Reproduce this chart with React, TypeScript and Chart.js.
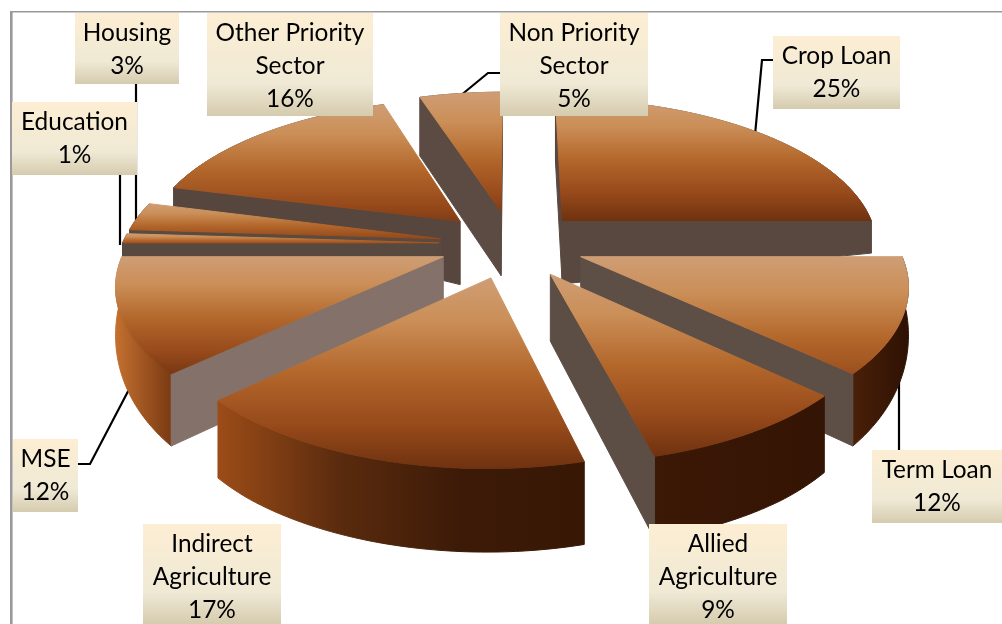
import React, { useEffect, useRef } from "react";
import { Chart, registerables } from "chart.js";

Chart.register(...registerables);

// Loan portfolio shares, clockwise from twelve o'clock.
const categories = [
  "Crop Loan",
  "Term Loan",
  "Allied Agriculture",
  "Indirect Agriculture",
  "MSE",
  "Education",
  "Housing",
  "Other Priority Sector",
  "Non Priority Sector",
];
const shares = [25, 12, 9, 17, 12, 1, 3, 16, 5];

// Text rows of each callout, category order.
const labelRows = [
  ["Crop Loan"],
  ["Term Loan"],
  ["Allied", "Agriculture"],
  ["Indirect", "Agriculture"],
  ["MSE"],
  ["Education"],
  ["Housing"],
  ["Other Priority", "Sector"],
  ["Non Priority", "Sector"],
];

// Callout rectangles [left, top, right, bottom].
const labelBoxes = [
  [773, 36, 900, 109],
  [872, 450, 1002, 523],
  [649, 524, 787, 624],
  [143, 524, 281, 624],
  [13, 439, 78, 512],
  [12, 102, 137, 175],
  [75, 13, 179, 84],
  [207, 13, 373, 116],
  [500, 13, 648, 116],
];

// Leader polylines, category order; the allied and indirect callouts have none.
const leaders = [
  [[755, 135], [762, 60], [773, 60]],
  [[899, 370], [899, 450]],
  [],
  [],
  [[135, 378], [90, 464], [78, 464]],
  [[120, 175], [120, 245]],
  [[136, 84], [136, 220]],
  [],
  [[460, 96], [488, 73], [500, 73]],
];

// Paint order of the wedges, far ones first.
const paintOrder = [8, 7, 0, 6, 5, 4, 1, 3, 2];

// Flat side colours and the left-to-right colours of each outer rim.
const wallColors = ["#58483f", "#5d4e46", "#5c4d45", "#5a4a41", "#84726a", "#574840", "#5a4a40", "#56463d", "#5b4b42"];
const rimColors = [
  ["#5a4a40", "#5a4a40"],
  ["#4a2008", "#2e1104"],
  ["#3c1806", "#341404"],
  ["#9c4c17", "#5a2b0e", "#3c1a07", "#381705"],
  ["#c47030", "#7a3a12"],
  ["#5a4236", "#54443a"],
  ["#6b3d22", "#55402f"],
  ["#56463d", "#56463d"],
  ["#5b4b42", "#5b4b42"],
];
// Fraction of the top-face colour ramp used by each wedge.
const rampReach = [1, 0.72, 1, 1, 0.95, 0.7, 0.8, 0.9, 0.9];

// Look of the tilted pie.
const tilt = { stretchX: 1.585, stretchY: 0.74, perspective: 0.16 };

type Pt = { x: number; y: number };

const piePlugin = {
  id: "tiltedPie",
  beforeDatasetsDraw(chart: any) {
    const ctx: CanvasRenderingContext2D = chart.ctx;
    const arcs = chart.getDatasetMeta(0).data;

    // Leaders run behind the wedges, so they stop at each wedge's edge.
    ctx.strokeStyle = "#000000";
    ctx.lineWidth = 2.2;
    leaders.forEach((line) => {
      if (!line.length) return;
      ctx.beginPath();
      line.forEach(([x, y], n) => (n ? ctx.lineTo(x, y) : ctx.moveTo(x, y)));
      ctx.stroke();
    });

    paintOrder.forEach((i) => {
      const arc = arcs[i];
      const R = arc.outerRadius;
      const explode = (arc.options.offset || 0) / 4 / R;
      const mid = (arc.startAngle + arc.endAngle) / 2;

      // Unit disc coordinates: a is along the screen's x, b towards the viewer.
      const ox = Math.cos(mid) * explode;
      const oy = Math.sin(mid) * explode;
      const project = (a: number, b: number): Pt => {
        const s = 1 / (1 - tilt.perspective * b);
        return { x: arc.x + R * tilt.stretchX * a * s, y: arc.y + R * tilt.stretchY * b * s };
      };
      const depth = (a: number, b: number) =>
        64 + 16 * Math.max(b, 0) - 20 * a * a * Math.max(1 - b, 0);
      const low = (a: number, b: number) => {
        const p = project(a, b);
        return { x: p.x, y: p.y + depth(a, b) };
      };

      const steps = 48;
      const unit: [number, number][] = [];
      for (let k = 0; k <= steps; k++) {
        const t = arc.startAngle + ((arc.endAngle - arc.startAngle) * k) / steps;
        unit.push([ox + Math.cos(t), oy + Math.sin(t)]);
      }
      const rimTop = unit.map(([a, b]) => project(a, b));
      const rimLow = unit.map(([a, b]) => low(a, b));
      const apex = project(ox, oy);
      const apexLow = low(ox, oy);
      const midPt = project(ox + Math.cos(mid), oy + Math.sin(mid));

      const fillPoly = (pts: Pt[], fill: string | CanvasGradient) => {
        ctx.beginPath();
        pts.forEach((p, n) => (n ? ctx.lineTo(p.x, p.y) : ctx.moveTo(p.x, p.y)));
        ctx.closePath();
        ctx.fillStyle = fill;
        ctx.fill();
        // Closes the hairline left between neighbouring faces.
        ctx.strokeStyle = fill;
        ctx.lineWidth = 1;
        ctx.lineJoin = "round";
        ctx.stroke();
      };

      // Outer rim.
      const xs = rimTop.map((p) => p.x);
      const rimGrad = ctx.createLinearGradient(Math.min(...xs), 0, Math.max(...xs) + 0.01, 0);
      rimColors[i].forEach((c, n, all) => rimGrad.addColorStop(n / (all.length - 1), c));
      fillPoly([...rimTop, ...rimLow.slice().reverse()], rimGrad);

      // Cut faces that turn towards the viewer.
      [
        [rimTop[0], rimLow[0]],
        [rimTop[steps], rimLow[steps]],
      ].forEach(([pTop, pLow]) => {
        const ex = pTop.x - apex.x;
        const ey = pTop.y - apex.y;
        const inside = ex * (midPt.y - apex.y) - ey * (midPt.x - apex.x);
        if (ex * inside < 0) fillPoly([apex, pTop, pLow, apexLow], wallColors[i]);
      });

      // Top face with its vertical ramp.
      const ys = [apex.y, ...rimTop.map((p) => p.y)];
      const y0 = Math.min(...ys);
      const y1 = Math.max(...ys);
      const reach = rampReach[i];
      const grad = ctx.createLinearGradient(0, y0, 0, y0 + (y1 - y0) / reach);
      grad.addColorStop(0, "#cf9d74");
      grad.addColorStop(0.22, "#cb8f58");
      grad.addColorStop(0.5, "#b3672b");
      grad.addColorStop(0.78, "#96491a");
      grad.addColorStop(1, "#6f3210");
      fillPoly([apex, ...rimTop], grad);
    });
    return false;
  },
  afterDraw(chart: any) {
    const ctx: CanvasRenderingContext2D = chart.ctx;

    // Chart frame, open on the right and at the bottom.
    ctx.strokeStyle = "#999999";
    ctx.lineWidth = 2.6;
    ctx.beginPath();
    ctx.moveTo(11.3, 624);
    ctx.lineTo(11.3, 11);
    ctx.stroke();
    ctx.lineWidth = 1.5;
    ctx.beginPath();
    ctx.moveTo(10, 11.7);
    ctx.lineTo(1002, 11.7);
    ctx.stroke();

    ctx.font = '24.4px Lato, "Open Sans", sans-serif';
    ctx.textAlign = "center";
    ctx.textBaseline = "middle";
    labelBoxes.forEach(([l, t, r, b], i) => {
      const g = ctx.createLinearGradient(0, t, 0, b);
      g.addColorStop(0, "#fdeed3");
      g.addColorStop(0.68, "#efe9d5");
      g.addColorStop(1, "#d5cbae");
      ctx.fillStyle = g;
      ctx.fillRect(l, t, r - l, b - t);
      const rows = [...labelRows[i], `${shares[i]}%`];
      ctx.fillStyle = "#000000";
      rows.forEach((row, n) => {
        ctx.fillText(row, (l + r) / 2, t + 20 + n * 33);
      });
    });
  },
};

export default function App() {
  const ref = useRef<HTMLCanvasElement>(null);
  useEffect(() => {
    document.body.style.margin = "0";
    const chart = new Chart(ref.current!, {
      type: "pie",
      data: {
        labels: categories,
        datasets: [{ data: shares, offset: 184, borderWidth: 0, backgroundColor: "#b3672b" }],
      },
      options: {
        responsive: false,
        animation: false,
        radius: 200,
        layout: { padding: { left: 22, right: 0, top: 0, bottom: 136 } },
        plugins: { legend: { display: false }, tooltip: { enabled: false } },
      },
      plugins: [piePlugin],
    } as any);
    return () => chart.destroy();
  }, []);
  return (
    <canvas
      ref={ref}
      width={1002}
      height={624}
      style={{ position: "fixed", left: 0, top: 0, width: 1002, height: 624, background: "#ffffff" }}
    />
  );
}
